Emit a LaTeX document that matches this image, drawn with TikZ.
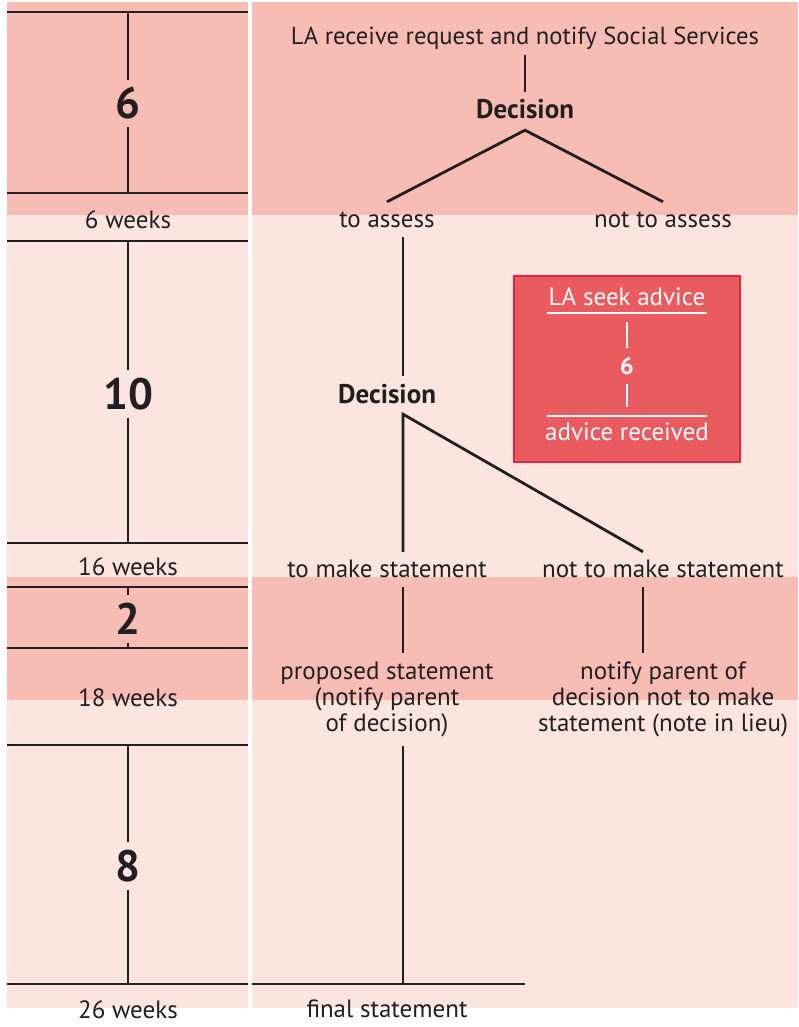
\documentclass[tikz,border=0pt]{standalone}
\usepackage{fontspec}
\setmainfont{PT Sans}
\definecolor{bandD}{HTML}{F7BDB5}
\definecolor{bandL}{HTML}{FCE5DF}
\definecolor{boxR}{HTML}{E95B5F}
\definecolor{boxE}{HTML}{E3233F}
\definecolor{ink}{HTML}{231F20}

\begin{document}
\begin{tikzpicture}[x=1pt, y=-1pt,
    line/.style={draw=ink, line width=2.8pt},
    wline/.style={draw=white, line width=2.8pt},
    lbl/.style={text=ink, font=\fontsize{25}{26}\selectfont, text height=20pt, text depth=5pt, inner sep=5pt},
    dec/.style={lbl, font=\fontsize{27}{27}\selectfont\bfseries, text height=22pt, text depth=6pt},
    multi/.style={text=ink, font=\fontsize{25}{26}\selectfont, align=center, inner sep=9pt},
    num/.style={text=ink, font=\fontsize{44}{44}\selectfont\bfseries, text height=31pt, text depth=0pt, inner sep=8pt}]
  \useasboundingbox (0,0) rectangle (798,1027);
  % Bands
  \fill[bandD] (7,2) rectangle (798,215);
  \fill[bandL] (7,215) rectangle (798,577);
  \fill[bandD] (7,577) rectangle (798,700);
  \fill[bandL] (7,700) rectangle (798,1008);
  \fill[white] (248,0) rectangle (252,1008);
  % Week scale
  \foreach \y in {12,193,241,543,587,648,745,984}
    \draw[line] (7,\y) -- (248,\y);
  \node[num] (N6) at (128,103.5) {6};
  \node[num] (N10) at (128,394) {10};
  \node[num] (N2) at (128,619) {2};
  \node[num] (N8) at (128,866) {8};
  \coordinate (T1) at (128,12);
  \coordinate (T2) at (128,193);
  \coordinate (T3) at (128,241);
  \coordinate (T4) at (128,543);
  \coordinate (T5) at (128,587);
  \coordinate (T6) at (128,648);
  \coordinate (T7) at (128,745);
  \coordinate (T8) at (128,984);
  \draw[line] (T1) -- (N6.north) (N6.south) -- (T2);
  \draw[line] (T3) -- (N10.north) (N10.south) -- (T4);
  \draw[line] (T5) -- (N2.north) (N2.south) -- (T6);
  \draw[line] (T7) -- (N8.north) (N8.south) -- (T8);
  \node[lbl, anchor=base] (W6) at (128,228) {6 weeks};
  \node[lbl, anchor=base] (W16) at (128,575) {16 weeks};
  \node[lbl, anchor=base] (W18) at (128,706) {18 weeks};
  \node[lbl, anchor=base] (W26) at (128,1018) {26 weeks};
  % Process Nodes
  \node[lbl, anchor=base, font=\fontsize{24.6}{26}\selectfont] (Req) at (525,45) {LA receive request and notify Social Services};
  \node[dec, anchor=base] (D1) at (525,119) {Decision};
  \node[lbl, anchor=base] (TA) at (387,227) {to assess};
  \node[lbl, anchor=base] (NTA) at (663,227) {not to assess};
  \node[dec, anchor=base] (D2) at (387,403) {Decision};
  \node[lbl, anchor=base] (TMS) at (387,577) {to make statement};
  \node[lbl, anchor=base] (NTMS) at (663,577) {not to make statement};
  \node[multi, anchor=north] (PS) at (387,653) {proposed statement\\(notify parent\\of decision)};
  \node[multi, anchor=north] (NP) at (663,653) {notify parent of\\decision not to make\\statement (note in lieu)};
  \node[lbl, anchor=base] (FS) at (387,1017) {final statement};
  \coordinate (S) at (403,0);
  \coordinate (S2) at (643,0);
  \coordinate (FL) at (252,984);
  \coordinate (FR) at (525,984);
  % Process Edges
  \draw[line] (Req.south) -- (D1.north);
  \draw[line] (TA.north) -- (D1.south) -- (NTA.north);
  \draw[line] (TA.south -| S) -- (D2.north -| S);
  \draw[line] (TMS.north -| S) -- (D2.south -| S) -- (NTMS.north -| S2);
  \draw[line] (TMS.south -| S) -- (PS.north -| S);
  \draw[line] (NTMS.south -| S2) -- (NP.north -| S2);
  \draw[line] (PS.south -| S) -- (FL -| S);
  \draw[line] (FL) -- (FR);
  % Advice box
  \draw[fill=boxR, draw=boxE, line width=2.8pt] (514,276) rectangle (740,462);
  \node[lbl, text=white, anchor=base] (SA) at (627,305) {LA seek advice};
  \node[dec, text=white, font=\fontsize{24}{24}\selectfont\bfseries, text height=17pt, text depth=0pt, inner sep=9pt] (B6) at (627,366) {6};
  \node[lbl, text=white, anchor=base] (AR) at (627,440) {advice received};
  \coordinate (BT) at (627,322);
  \coordinate (BB) at (627,407);
  \draw[wline] (547,313) -- (707,313);
  \draw[wline] (547,416) -- (707,416);
  \draw[wline] (BT) -- (B6.north) (B6.south) -- (BB);
\end{tikzpicture}
\end{document}
